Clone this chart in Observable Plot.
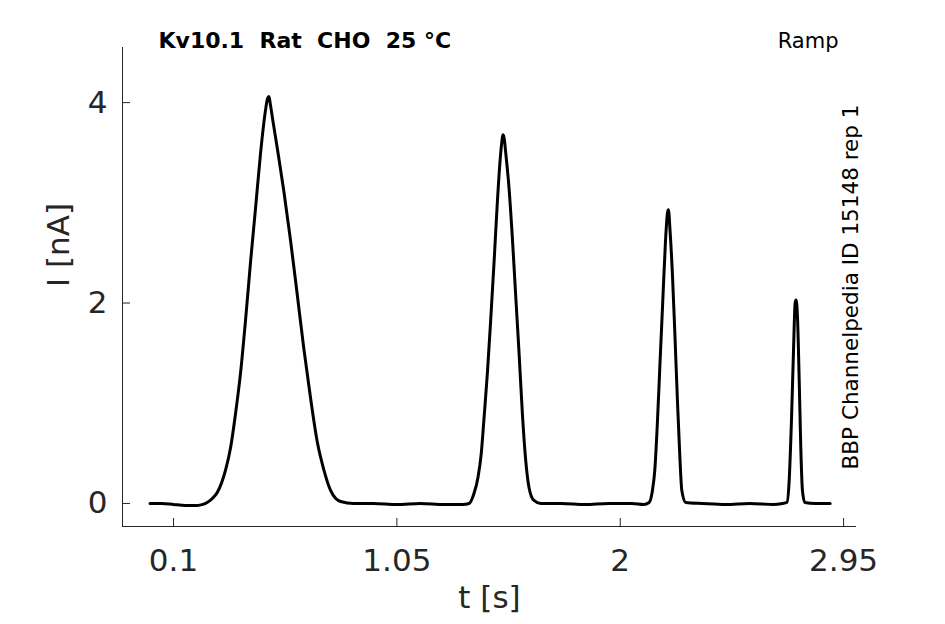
<!DOCTYPE html>
<html>
<head>
<meta charset="utf-8">
<script src="https://cdn.jsdelivr.net/npm/d3@7"></script>
<script src="https://cdn.jsdelivr.net/npm/@observablehq/plot@0.6"></script>
<style>
  html, body { margin: 0; padding: 0; background: #fff; }
</style>
</head>
<body>
<div id="chart"></div>
<script>
const titleText = "Kv10.1\u00a0\u00a0Rat\u00a0\u00a0CHO\u00a0\u00a025 \u00b0C";
const protocolText = "Ramp";
const sourceText = "BBP Channelpedia ID 15148 rep 1";
const xLabel = "t [s]";
const yLabel = "I [nA]";
const xTicks = [0.1, 1.05, 2, 2.95];
const yTicks = [0, 2, 4];
const xDomain = [-0.117, 3.005];
const yDomain = [-0.23, 4.55];

// time (s) and current (nA)
const timeS = [
  0.00, 0.05, 0.10, 0.15, 0.20, 0.225,
  0.243, 0.265, 0.286, 0.305, 0.321, 0.343, 0.364, 0.385, 0.406, 0.428, 0.449, 0.470, 0.491, 0.500, 0.506, 0.512,
  0.520, 0.541, 0.569, 0.598, 0.626, 0.654, 0.683, 0.711, 0.740, 0.768, 0.790, 0.811, 0.866,
  0.95, 1.05, 1.15, 1.25, 1.33,
  1.357, 1.378, 1.395, 1.409, 1.420, 1.435, 1.449, 1.463, 1.477, 1.489, 1.497, 1.501, 1.506,
  1.513, 1.527, 1.541, 1.555, 1.570, 1.584, 1.598, 1.612, 1.633, 1.662,
  1.75, 1.85, 1.95, 2.05, 2.10,
  2.123, 2.137, 2.147, 2.158, 2.169, 2.181, 2.192, 2.201, 2.205,
  2.212, 2.222, 2.232, 2.243, 2.253, 2.262, 2.279,
  2.35, 2.45, 2.55, 2.65, 2.69,
  2.709, 2.718, 2.728, 2.737, 2.744, 2.748, 2.754, 2.761, 2.768, 2.775, 2.785,
  2.83, 2.893
];
const currentNA = [
  0.00, 0.00, -0.01, -0.02, -0.02, -0.01,
  0.01, 0.05, 0.11, 0.21, 0.33, 0.56, 0.90, 1.30, 1.82, 2.42, 2.95, 3.49, 3.92, 4.04, 4.06, 3.98,
  3.86, 3.55, 3.12, 2.62, 2.09, 1.55, 1.05, 0.62, 0.33, 0.13, 0.05, 0.02, 0.00,
  0.00, -0.01, 0.00, -0.01, -0.01,
  0.00, 0.10, 0.26, 0.50, 0.83, 1.30, 1.83, 2.39, 2.99, 3.42, 3.62, 3.68, 3.65,
  3.50, 3.15, 2.66, 2.09, 1.49, 0.89, 0.43, 0.16, 0.03, 0.00,
  0.00, -0.01, 0.00, 0.00, -0.01,
  0.01, 0.13, 0.33, 0.80, 1.39, 2.02, 2.59, 2.90, 2.93,
  2.72, 2.29, 1.72, 1.05, 0.50, 0.13, 0.01,
  0.00, -0.01, 0.00, -0.01, 0.00,
  0.01, 0.20, 0.80, 1.52, 2.00, 2.03, 1.86, 1.26, 0.56, 0.13, 0.01,
  0.00, 0.00
];

const trace = timeS.map((t, i) => ({t, I: currentNA[i]}));
const axisColor = "#262626";

const W = 945, H = 624;
const mL = 122, mR = 89, mT = 47, mB = 98;
const frameH = H - mT - mB;

const chart = Plot.plot({
  width: W,
  height: H,
  marginLeft: mL,
  marginRight: mR,
  marginTop: mT,
  marginBottom: mB,
  style: {fontFamily: "DejaVu Sans", background: "#fff", color: axisColor},
  x: {domain: xDomain},
  y: {domain: yDomain},
  marks: [
    Plot.ruleY([yDomain[0]], {stroke: axisColor, strokeWidth: 1}),
    Plot.ruleX([xDomain[0]], {stroke: axisColor, strokeWidth: 1}),
    Plot.tickX(xTicks, {x: d => d, stroke: axisColor, insetTop: frameH - 8}),
    Plot.tickY(yTicks, {y: d => d, stroke: axisColor, insetRight: (W - mL - mR) - 8}),
    Plot.axisX({ticks: xTicks, tickSize: 0, tickPadding: 22, fontSize: 31, tickFormat: d => String(d), label: null, fill: axisColor}),
    Plot.axisY({ticks: yTicks, tickSize: 0, tickPadding: 15, fontSize: 31, tickFormat: d => String(d), label: null, fill: axisColor}),
    Plot.line(trace, {x: "t", y: "I", stroke: "#000", strokeWidth: 3, strokeLinejoin: "round", curve: "monotone-x"}),
    Plot.text([xLabel], {frameAnchor: "bottom", dy: 81, lineAnchor: "bottom", fontSize: 31, fill: axisColor}),
    Plot.text([yLabel], {frameAnchor: "left", dx: -63, rotate: -90, lineAnchor: "middle", fontSize: 31, fill: axisColor}),
    Plot.text([titleText], {frameAnchor: "top-left", dx: 36, dy: 0, textAnchor: "start", lineAnchor: "bottom", fontSize: 22, fontWeight: "bold", fill: "#000"}),
    Plot.text([protocolText], {frameAnchor: "top-right", dx: -18, dy: 0, textAnchor: "end", lineAnchor: "bottom", fontSize: 21, fill: "#000"}),
    Plot.text([sourceText], {frameAnchor: "right", dx: 1, rotate: -90, textAnchor: "middle", lineAnchor: "bottom", fontSize: 21.5, fill: "#000"})
  ]
});
document.getElementById("chart").appendChild(chart);
</script>
</body>
</html>
